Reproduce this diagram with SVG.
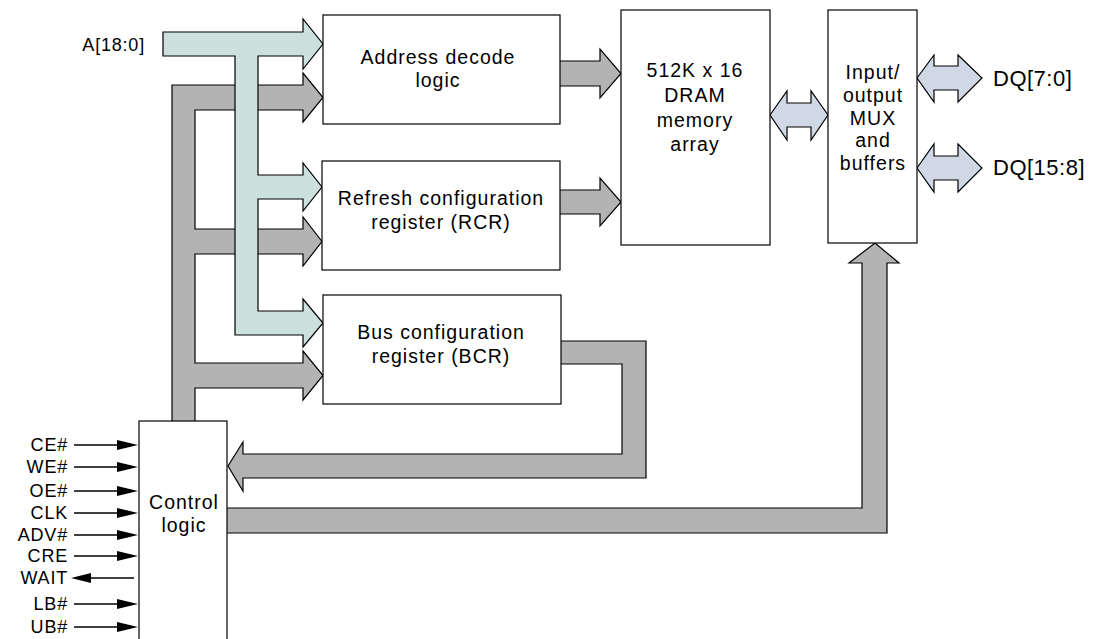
<svg xmlns="http://www.w3.org/2000/svg" width="1094" height="639" viewBox="0 0 1094 639">
<style>
.box{fill:#fff;stroke:#000;stroke-width:1.2}
.gray{fill:#b3b3b3;stroke:#000;stroke-width:1.2;stroke-linejoin:miter}
.teal{fill:#cce0dd;stroke:#000;stroke-width:1.2}
.lav{fill:#d0d8e6;stroke:#000;stroke-width:1.2}
.t{font-family:"Liberation Sans",Arial,sans-serif;font-size:19.5px;fill:#000;text-anchor:middle;letter-spacing:1px}
.lbl{font-family:"Liberation Sans",Arial,sans-serif;font-size:18px;fill:#000;text-anchor:end;letter-spacing:0.8px}
.dq{font-family:"Liberation Sans",Arial,sans-serif;font-size:22px;fill:#000;letter-spacing:0.5px}
.sig{stroke:#000;stroke-width:1.3;fill:none}
.ah{fill:#000}
</style>
<g id="connectors">
  <path class="gray" d="M172,421 L172,85 L303,85 L303,73 L323,97.5 L303,122 L303,110 L195,110 L195,229 L303,229 L303,217 L322,241.5 L303,266 L303,254 L195,254 L195,363 L303,363 L303,351 L323,375.5 L303,400 L303,388 L195,388 L195,421"/>
  <path class="teal" d="M163,32 L303,32 L303,19 L323,44 L303,69 L303,56 L258,56 L258,175 L303,175 L303,163 L322,187 L303,211 L303,199 L258,199 L258,311 L303,311 L303,299 L323,323 L303,347 L303,335 L235,335 L235,56 L163,56 Z"/>
  <path class="gray" d="M560,61 L600,61 L600,49 L621,73.5 L600,98 L600,86 L560,86"/>
  <path class="gray" d="M560,190 L600,190 L600,178 L621,202 L600,226 L600,214 L560,214"/>
  <path class="lav" d="M770,115 L787,91 L787,103 L811,103 L811,91 L828,115 L811,140 L811,127 L787,127 L787,140 Z"/>
  <path class="lav" d="M917,78 L934,55 L934,66 L958,66 L958,55 L982,78 L958,102 L958,90 L934,90 L934,102 Z"/>
  <path class="lav" d="M917,168 L934,144 L934,156 L958,156 L958,144 L982,168 L958,192 L958,180 L934,180 L934,192 Z"/>
  <path class="gray" d="M561,341 L646,341 L646,478 L243,478 L243,491 L228,466 L243,442 L243,454 L622,454 L622,364 L561,364"/>
  <path class="gray" d="M227,508 L862,508 L862,263 L849,263 L875,243 L899,263 L887,263 L887,533 L227,533"/>
  <line class="sig" x1="74" y1="445" x2="120" y2="445"/><path class="ah" d="M117,440 L138,445 L117,450 Z"/>
  <line class="sig" x1="74" y1="467" x2="120" y2="467"/><path class="ah" d="M117,462 L138,467 L117,472 Z"/>
  <line class="sig" x1="74" y1="491" x2="120" y2="491"/><path class="ah" d="M117,486 L138,491 L117,496 Z"/>
  <line class="sig" x1="74" y1="513" x2="120" y2="513"/><path class="ah" d="M117,508 L138,513 L117,518 Z"/>
  <line class="sig" x1="74" y1="535" x2="120" y2="535"/><path class="ah" d="M117,530 L138,535 L117,540 Z"/>
  <line class="sig" x1="74" y1="556" x2="120" y2="556"/><path class="ah" d="M117,551 L138,556 L117,561 Z"/>
  <line class="sig" x1="88" y1="578" x2="134" y2="578"/><path class="ah" d="M91,573 L71,578 L91,583 Z"/>
  <line class="sig" x1="74" y1="604" x2="120" y2="604"/><path class="ah" d="M117,599 L138,604 L117,609 Z"/>
  <line class="sig" x1="74" y1="627" x2="120" y2="627"/><path class="ah" d="M117,622 L138,627 L117,632 Z"/>
</g>
<g id="addr">
  <rect class="box" x="323" y="15" width="237" height="109"/>
  <text class="t" x="438" y="64">Address decode</text>
  <text class="t" x="438" y="87">logic</text>
</g>
<g id="rcr">
  <rect class="box" x="322" y="161" width="238" height="109"/>
  <text class="t" x="441" y="205">Refresh configuration</text>
  <text class="t" x="441" y="229">register (RCR)</text>
</g>
<g id="bcr">
  <rect class="box" x="323" y="295" width="238" height="109"/>
  <text class="t" x="441" y="339">Bus configuration</text>
  <text class="t" x="441" y="363">register (BCR)</text>
</g>
<g id="dram">
  <rect class="box" x="621" y="10" width="149" height="235"/>
  <text class="t" x="695" y="77">512K x 16</text>
  <text class="t" x="695" y="102">DRAM</text>
  <text class="t" x="695" y="127">memory</text>
  <text class="t" x="695" y="151">array</text>
</g>
<g id="mux">
  <rect class="box" x="828" y="10" width="89" height="233"/>
  <text class="t" x="873" y="79">Input/</text>
  <text class="t" x="873" y="102">output</text>
  <text class="t" x="873" y="125">MUX</text>
  <text class="t" x="873" y="147">and</text>
  <text class="t" x="873" y="170">buffers</text>
</g>
<g id="ctrl">
  <rect class="box" x="139" y="421" width="88" height="230"/>
  <text class="t" x="184" y="509">Control</text>
  <text class="t" x="184" y="532">logic</text>
</g>
<g id="labels">
  <text class="lbl" x="145" y="51">A[18:0]</text>
  <text class="dq" x="993" y="86">DQ[7:0]</text>
  <text class="dq" x="993" y="175">DQ[15:8]</text>
  <text class="lbl" x="68" y="451">CE#</text>
  <text class="lbl" x="68" y="473">WE#</text>
  <text class="lbl" x="68" y="497">OE#</text>
  <text class="lbl" x="68" y="519">CLK</text>
  <text class="lbl" x="68" y="541">ADV#</text>
  <text class="lbl" x="68" y="562">CRE</text>
  <text class="lbl" x="68" y="584">WAIT</text>
  <text class="lbl" x="68" y="610">LB#</text>
  <text class="lbl" x="68" y="633">UB#</text>
</g>
</svg>
